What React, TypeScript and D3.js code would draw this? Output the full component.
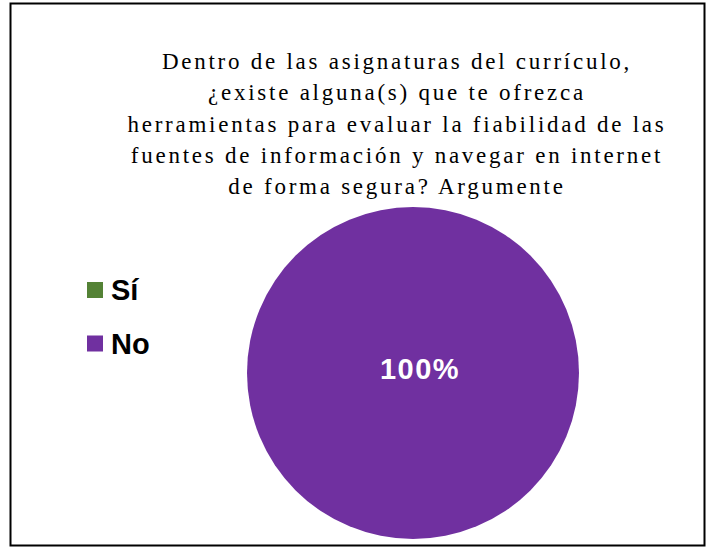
import React from "react";
import * as d3 from "d3";

const categories = ["Sí", "No"];
const values = [0, 100];
const colors = ["#548235", "#7030A0"];
const titleLines = [
  "Dentro de las asignaturas del currículo,",
  "¿existe alguna(s) que te ofrezca",
  "herramientas para evaluar la fiabilidad de las",
  "fuentes de información y navegar en internet",
  "de forma segura? Argumente",
];

export default function App() {
  const W = 712, H = 548;
  const cx = 413, cy = 373, r = 166;
  const pie = d3.pie<number>().sort(null).value((d) => d)(values);
  const arc = d3.arc<d3.PieArcDatum<number>>().innerRadius(0).outerRadius(r);
  const total = d3.sum(values);
  return (
    <svg width={W} height={H} style={{ position: "absolute", left: 0, top: 0 }}>
      <rect x={0} y={0} width={W} height={H} fill="#fff" />
      <rect x={10.5} y={3.5} width={694} height={542} fill="#fff" stroke="#000" strokeWidth={2} />
      <g fontFamily="'Liberation Serif', 'Times New Roman', serif" fontSize={23} fill="#000" letterSpacing={2.75} textAnchor="middle">
        {titleLines.map((t, i) => (
          <text key={i} x={397} y={69 + i * 31.3}>{t}</text>
        ))}
      </g>
      <g transform={`translate(${cx},${cy})`}>
        {pie.map((p, i) =>
          p.value > 0 ? (
            values[i] === total ? (
              <circle key={i} r={r} fill={colors[i]} />
            ) : (
              <path key={i} d={arc(p) || ""} fill={colors[i]} />
            )
          ) : null
        )}
        {pie.map((p, i) =>
          p.value > 0 ? (
            <text key={"l" + i} x={values[i] === total ? 7 : arc.centroid(p)[0]} y={values[i] === total ? 6 : arc.centroid(p)[1]}
              fill="#fff" fontFamily="'Liberation Sans', Arial, sans-serif" fontWeight="bold" fontSize={29} letterSpacing={1.5} textAnchor="middle">
              {`${Math.round((values[i] / total) * 100)}%`}
            </text>
          ) : null
        )}
      </g>
      <g fontFamily="'Liberation Sans', Arial, sans-serif" fontWeight="bold" fontSize={29} fill="#000">
        {categories.map((c, i) => (
          <g key={c} transform={`translate(87,${282 + i * 53.5})`}>
            <rect x={0} y={0} width={16} height={16} fill={colors[i]} />
            <text x={24} y={18}>{c}</text>
          </g>
        ))}
      </g>
    </svg>
  );
}
